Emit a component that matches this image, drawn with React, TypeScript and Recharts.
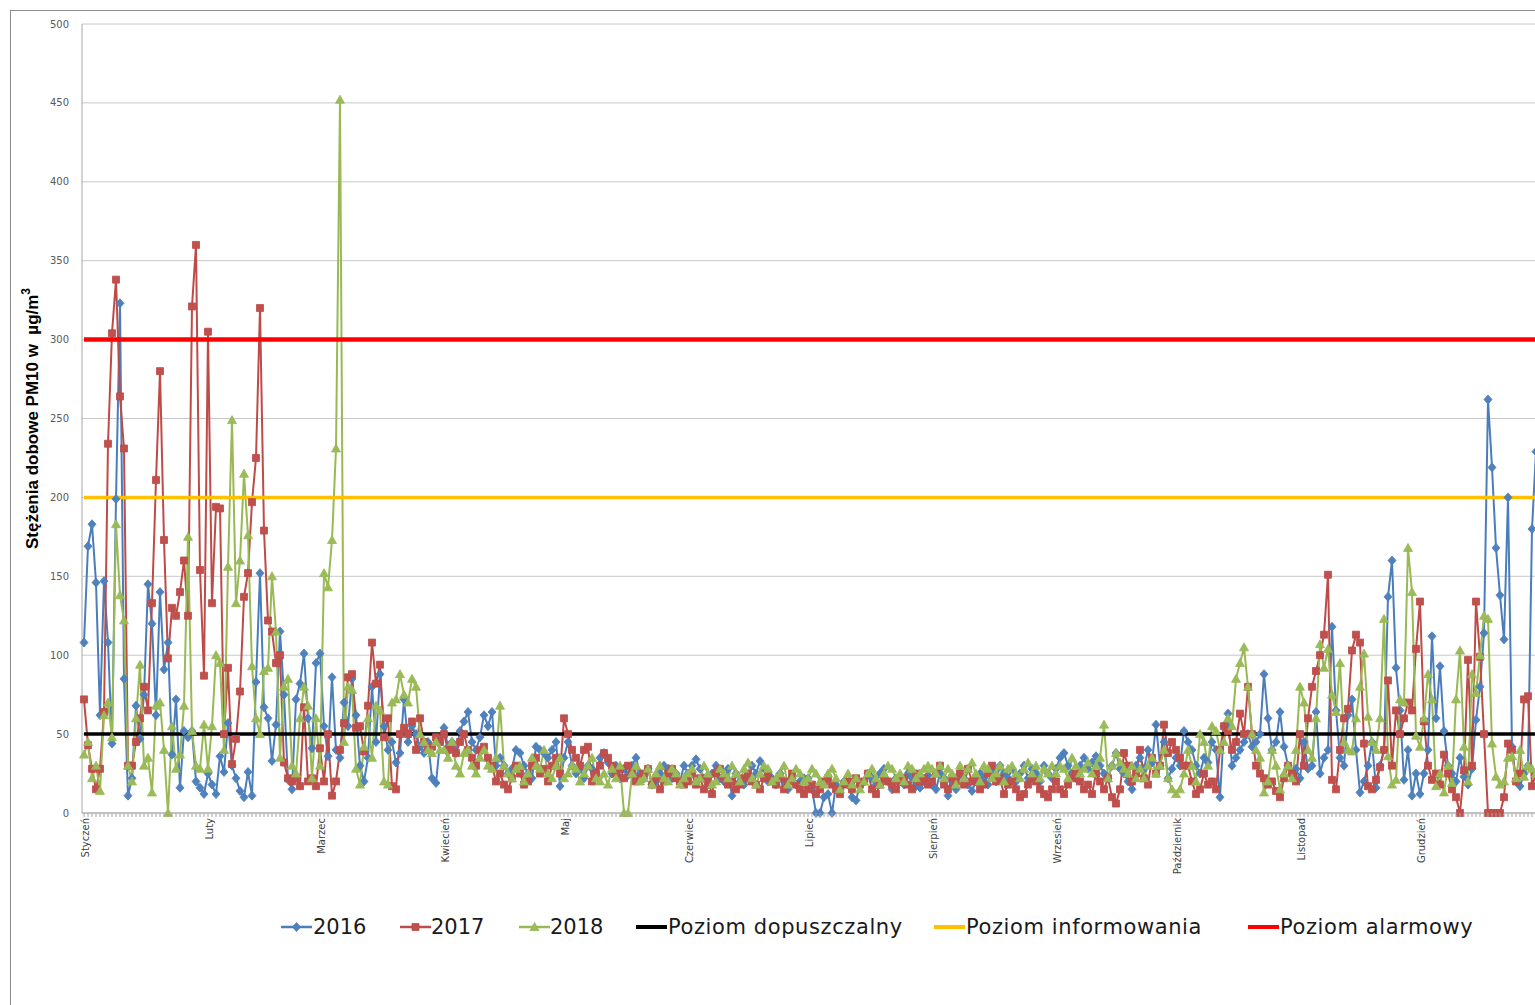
import React from 'react';
import { LineChart, Line, XAxis, YAxis, CartesianGrid, Legend } from 'recharts';

const MONTHS = ['Styczeń', 'Luty', 'Marzec', 'Kwiecień', 'Maj', 'Czerwiec', 'Lipiec', 'Sierpień', 'Wrzesień', 'Październik', 'Listopad', 'Grudzień'];
const MONTH_DAYS = [31, 28, 31, 30, 31, 30, 31, 31, 30, 31, 30, 31];
const Y_TICKS = [0, 50, 100, 150, 200, 250, 300, 350, 400, 450, 500];

const LIMIT_DOPUSZCZALNY = 50;
const LIMIT_INFORMOWANIA = 200;
const LIMIT_ALARMOWY = 300;

// Daily PM10 concentrations, one sub-array per month
const PM10_2016: number[][] = [
  [108, 169, 183, 146, 62, 147, 108, 44, 199, 323, 85, 11, 22, 68, 47, 75, 145, 120, 62, 140, 91, 108, 37, 72, 16, 52, 48, 52, 20, 16, 12],
  [25, 18, 12, 36, 26, 57, 30, 22, 14, 10, 26, 11, 83, 152, 67, 60, 33, 56, 115, 75, 21, 15, 72, 82, 101, 60, 41, 95],
  [101, 55, 36, 86, 40, 35, 70, 55, 85, 62, 30, 20, 35, 80, 45, 88, 55, 40, 45, 32, 38, 72, 45, 55, 50, 42, 38, 45, 22, 19, 45],
  [54, 42, 45, 38, 52, 58, 64, 45, 40, 48, 62, 55, 64, 30, 35, 30, 25, 28, 40, 38, 30, 25, 22, 42, 40, 38, 35, 40, 45, 17],
  [35, 45, 30, 25, 28, 22, 30, 28, 25, 35, 38, 32, 25, 30, 22, 28, 24, 30, 35, 25, 22, 28, 18, 20, 25, 30, 28, 22, 25, 20, 30],
  [25, 30, 34, 28, 22, 18, 25, 30, 22, 20, 28, 11, 25, 20, 18, 22, 30, 25, 33, 28, 20, 22, 18, 25, 20, 15, 22, 18, 20, 22],
  [22, 15, 0, 0, 10, 12, 0, 18, 15, 20, 18, 10, 8, 18, 20, 25, 22, 18, 25, 28, 20, 15, 22, 20, 18, 25, 22, 17, 16, 20, 24],
  [18, 15, 25, 22, 11, 20, 15, 25, 22, 18, 14, 20, 25, 22, 18, 28, 20, 30, 25, 22, 28, 20, 25, 30, 22, 28, 25, 20, 30, 25, 22],
  [28, 35, 38, 30, 25, 22, 30, 35, 28, 32, 36, 30, 25, 22, 30, 38, 28, 25, 20, 15, 30, 35, 28, 40, 32, 56, 30, 45, 22, 28],
  [35, 30, 52, 45, 40, 30, 25, 35, 32, 45, 40, 10, 55, 63, 30, 35, 40, 45, 50, 42, 45, 50, 88, 60, 40, 45, 64, 42, 30, 25, 28],
  [22, 45, 28, 30, 64, 25, 35, 40, 118, 65, 35, 30, 62, 72, 40, 13, 20, 30, 45, 16, 30, 40, 137, 160, 92, 65, 21, 40, 11, 25],
  [12, 25, 40, 112, 60, 93, 52, 30, 25, 20, 35, 23, 18, 28, 59, 80, 114, 262, 219, 168, 138, 110, 200, 42, 20, 17, 25, 30, 180, 229, 200],
];

const PM10_2017: number[][] = [
  [72, 43, 28, 15, 28, 64, 234, 304, 338, 264, 231, 30, 30, 45, 60, 80, 65, 133, 211, 280, 173, 98, 130, 125, 140, 160, 125, 321, 360, 154, 87],
  [305, 133, 194, 193, 50, 92, 31, 47, 77, 137, 152, 197, 225, 320, 179, 122, 115, 95, 100, 32, 22, 20, 22, 17, 67, 20, 22, 17],
  [41, 20, 50, 11, 20, 40, 57, 86, 88, 54, 55, 39, 68, 108, 82, 94, 48, 60, 17, 15, 50, 54, 50, 58, 40, 60, 45, 40, 42, 48, 45],
  [50, 40, 42, 38, 45, 50, 40, 35, 30, 40, 42, 35, 30, 20, 25, 18, 15, 22, 30, 25, 18, 20, 30, 35, 25, 28, 20, 30, 35, 25],
  [60, 50, 40, 35, 30, 40, 42, 20, 25, 30, 38, 35, 30, 25, 28, 22, 30, 25, 20, 22, 25, 28, 18, 22, 15, 20, 25, 28, 22, 20, 18],
  [20, 25, 18, 22, 15, 20, 12, 25, 28, 22, 18, 20, 15, 18, 22, 25, 20, 18, 15, 22, 25, 20, 18, 22, 15, 20, 25, 18, 15, 12],
  [15, 18, 12, 15, 20, 22, 18, 15, 12, 18, 20, 15, 22, 18, 20, 25, 15, 12, 18, 22, 20, 18, 15, 20, 22, 18, 15, 25, 20, 22, 18],
  [20, 25, 30, 18, 15, 22, 20, 25, 18, 28, 20, 22, 15, 18, 25, 30, 20, 22, 12, 18, 20, 15, 10, 12, 18, 22, 20, 15, 12, 10, 15],
  [20, 15, 12, 18, 22, 25, 20, 15, 18, 12, 25, 20, 15, 22, 10, 6, 15, 38, 30, 20, 25, 40, 22, 18, 35, 25, 30, 56, 38, 45],
  [40, 35, 30, 30, 20, 12, 15, 25, 18, 20, 15, 40, 55, 52, 40, 45, 63, 50, 80, 50, 30, 25, 22, 18, 20, 14, 10, 22, 30, 25, 20],
  [50, 30, 60, 80, 90, 100, 113, 151, 21, 15, 40, 60, 66, 103, 113, 108, 44, 17, 15, 21, 29, 40, 84, 30, 65, 50, 60, 70, 65, 104],
  [134, 58, 30, 21, 25, 18, 37, 25, 15, 10, 0, 27, 97, 30, 134, 99, 50, 0, 0, 0, 0, 10, 44, 40, 20, 25, 72, 74, 17, 25, 30],
];

const PM10_2018: number[][] = [
  [37, 45, 22, 30, 14, 62, 70, 48, 183, 138, 122, 30, 20, 60, 94, 30, 35, 13, 68, 70, 40, 0, 55, 28, 37, 68, 175, 52, 30, 28, 56],
  [28, 55, 100, 95, 40, 156, 249, 133, 160, 215, 176, 93, 60, 50, 90, 92, 150, 115, 35, 80, 85, 30, 25, 60, 80, 68, 22, 60],
  [30, 152, 143, 173, 231, 452, 45, 80, 78, 28, 18, 42, 60, 35, 68, 65, 20, 18, 70, 72, 88, 75, 70, 85, 80, 50, 45, 40, 38, 45, 40],
  [40, 35, 45, 30, 25, 38, 40, 30, 25, 35, 40, 30, 28, 35, 68, 30, 25, 22, 28, 30, 20, 25, 35, 30, 28, 40, 25, 22, 30, 35],
  [22, 25, 30, 28, 20, 25, 30, 35, 22, 20, 25, 18, 28, 22, 30, 0, 0, 25, 30, 20, 22, 28, 18, 25, 30, 22, 20, 28, 25, 18, 22],
  [25, 28, 20, 22, 30, 25, 18, 20, 28, 25, 22, 30, 25, 20, 28, 32, 22, 18, 25, 30, 28, 20, 22, 25, 30, 18, 22, 28, 25, 20],
  [22, 28, 25, 20, 18, 25, 28, 22, 15, 20, 25, 18, 22, 15, 20, 25, 28, 22, 18, 25, 30, 28, 22, 25, 20, 30, 28, 22, 25, 28, 30],
  [28, 25, 30, 22, 28, 25, 18, 30, 22, 28, 32, 25, 20, 30, 28, 22, 25, 30, 20, 28, 30, 25, 22, 28, 32, 25, 30, 22, 28, 25, 30],
  [25, 30, 28, 22, 35, 30, 25, 28, 32, 25, 30, 35, 56, 22, 30, 38, 32, 28, 25, 30, 22, 28, 22, 30, 35, 25, 30, 40, 22, 15],
  [12, 15, 25, 40, 30, 20, 50, 45, 30, 55, 52, 40, 45, 60, 55, 85, 95, 105, 80, 50, 40, 35, 13, 20, 40, 30, 15, 25, 30, 22, 40],
  [80, 70, 40, 35, 60, 107, 92, 104, 75, 64, 95, 45, 40, 39, 60, 80, 101, 61, 45, 40, 60, 123, 36, 18, 21, 72, 70, 168, 140, 49],
  [42, 60, 88, 72, 17, 25, 13, 30, 19, 72, 103, 42, 20, 88, 76, 100, 125, 123, 44, 23, 18, 20, 35, 36, 22, 40, 23, 30, 28, 25, 30],
];

const SERIES = [
  { key: 'y2016', name: '2016', stroke: '#4A7EBB', fill: '#4F81BD', marker: 'diamond' },
  { key: 'y2017', name: '2017', stroke: '#BE4B48', fill: '#C0504D', marker: 'square' },
  { key: 'y2018', name: '2018', stroke: '#98B954', fill: '#9BBB59', marker: 'triangle' },
];
const LIMITS = [
  { key: 'dop', name: 'Poziom dopuszczalny', stroke: '#000000', width: 3.5 },
  { key: 'inf', name: 'Poziom informowania', stroke: '#FFC000', width: 3.5 },
  { key: 'alarm', name: 'Poziom alarmowy', stroke: '#FF0000', width: 4.5 },
];

const MONTH_START: Record<number, string> = {};
{
  let acc = 0;
  MONTH_DAYS.forEach((n, i) => {
    MONTH_START[acc] = MONTHS[i];
    acc += n;
  });
}

const s16 = PM10_2016.flat();
const s17 = PM10_2017.flat();
const s18 = PM10_2018.flat();

const data = s16.map((v, i) => ({
  day: i,
  y2016: v,
  y2017: s17[i],
  y2018: s18[i],
  dop: LIMIT_DOPUSZCZALNY,
  inf: LIMIT_INFORMOWANIA,
  alarm: LIMIT_ALARMOWY,
}));

const FONT = '"DejaVu Sans", "Liberation Sans", sans-serif';

function markerPath(type: string, cx: number, cy: number) {
  if (type === 'diamond') return `M${cx},${cy - 4.5}L${cx + 4},${cy}L${cx},${cy + 4.5}L${cx - 4},${cy}Z`;
  if (type === 'square') return `M${cx - 3.5},${cy - 3.5}h7v7h-7Z`;
  return `M${cx},${cy - 4.5}L${cx + 4.5},${cy + 3.5}L${cx - 4.5},${cy + 3.5}Z`;
}

const makeDot = (type: string, fill: string, stroke: string) => (props: any) => {
  const { cx, cy, index } = props;
  if (cx == null || cy == null) return <g key={`e-${type}-${index}`} />;
  return <path key={`m-${type}-${index}`} d={markerPath(type, cx, cy)} fill={fill} stroke={stroke} strokeWidth={0.8} />;
};

const MonthTick = (props: any) => {
  const { x, y, payload } = props;
  const label = MONTH_START[payload.value];
  return (
    <g>
      <line x1={x} x2={x} y1={y} y2={y + 4} stroke="#a6a6a6" strokeWidth={1} />
      {label ? (
        <text
          x={x + 1}
          y={y + 5}
          transform={`rotate(-90, ${x + 1}, ${y + 5})`}
          textAnchor="end"
          dominantBaseline="central"
          fontSize={10}
          fontFamily={FONT}
          fill="#404040"
        >
          {label}
        </text>
      ) : null}
    </g>
  );
};

const YLabel = (props: any) => {
  const vb = props.viewBox || { x: 0, y: 24, width: 82, height: 789 };
  const x = 32;
  const y = vb.y + vb.height / 2;
  return (
    <text
      x={x}
      y={y}
      transform={`rotate(-90, ${x}, ${y})`}
      textAnchor="middle"
      dominantBaseline="central"
      fontSize={17}
      fontWeight="bold"
      fontFamily='"Liberation Sans", Arial, sans-serif'
      fill="#000"
      style={{ whiteSpace: 'pre' }}
    >
      {'Stężenia dobowe PM10 w  µg/m'}
      <tspan fontSize={12} dy={-6}>3</tspan>
    </text>
  );
};

const LEGEND_POS: Record<string, [number, number]> = {
  y2016: [281, 313],
  y2017: [400, 431],
  y2018: [519, 550],
  dop: [636, 668],
  inf: [934, 966],
  alarm: [1248, 1280],
};

const LegendContent = () => {
  const items = [
    ...SERIES.map((s) => ({ key: s.key, name: s.name, stroke: s.stroke, fill: s.fill, marker: s.marker, width: 2.5 })),
    ...LIMITS.map((l) => ({ key: l.key, name: l.name, stroke: l.stroke, fill: l.stroke, marker: '', width: 4 })),
  ];
  return (
    <div style={{ position: 'relative', width: 1560, height: 108 }}>
      {items.map((it) => {
        const [ix, tx] = LEGEND_POS[it.key];
        return (
          <React.Fragment key={it.key}>
            <svg style={{ position: 'absolute', left: ix, top: 18 }} width={31} height={24}>
              <line x1={0} x2={31} y1={12} y2={12} stroke={it.stroke} strokeWidth={it.width} />
              {it.marker ? <path d={markerPath(it.marker, 15.5, 12)} fill={it.fill} stroke={it.stroke} strokeWidth={0.8} /> : null}
            </svg>
            <div
              style={{
                position: 'absolute',
                left: tx,
                top: 18,
                height: 24,
                lineHeight: '24px',
                fontSize: 21,
                letterSpacing: it.marker ? '0px' : '0.6px',
                fontFamily: FONT,
                color: '#1a1a1a',
                whiteSpace: 'nowrap',
              }}
            >
              {it.name}
            </div>
          </React.Fragment>
        );
      })}
    </div>
  );
};

export default function App() {
  return (
    <div style={{ position: 'absolute', left: 0, top: 0, width: 1535, height: 1005, overflow: 'hidden', background: '#fff' }}>
      <div
        style={{
          position: 'absolute',
          left: 10,
          top: 10,
          width: 1600,
          height: 1100,
          border: '1px solid #8c8c8c',
          boxSizing: 'border-box',
        }}
      />
      <div style={{ position: 'absolute', left: 0, top: 0 }}>
        <LineChart width={1560} height={1005} data={data} margin={{ top: 24, right: 18, bottom: 0, left: 0 }}>
          <CartesianGrid vertical={false} stroke="#c8c8c8" strokeWidth={1} />
          <XAxis
            dataKey="day"
            type="category"
            interval={0}
            height={84}
            padding={{ left: 2, right: 2 }}
            tickLine={false}
            tickSize={0}
            tickMargin={0}
            axisLine={{ stroke: '#a6a6a6' }}
            tick={<MonthTick />}
          />
          <YAxis
            domain={[0, 500]}
            ticks={Y_TICKS}
            interval={0}
            width={82}
            tickLine={false}
            tickSize={0}
            tickMargin={13}
            axisLine={{ stroke: '#a6a6a6' }}
            tick={{ fontSize: 10, fill: '#595959', fontFamily: FONT }}
            label={<YLabel />}
          />
          <Legend verticalAlign="bottom" align="left" content={<LegendContent />} wrapperStyle={{ left: 0, bottom: 0, width: 1560, height: 108 }} />
          {SERIES.map((s) => (
            <Line
              key={s.key}
              type="linear"
              dataKey={s.key}
              name={s.name}
              stroke={s.stroke}
              strokeWidth={2}
              dot={makeDot(s.marker, s.fill, s.stroke)}
              activeDot={false}
              isAnimationActive={false}
            />
          ))}
          {LIMITS.map((l) => (
            <Line
              key={l.key}
              type="linear"
              dataKey={l.key}
              name={l.name}
              stroke={l.stroke}
              strokeWidth={l.width}
              dot={false}
              activeDot={false}
              isAnimationActive={false}
            />
          ))}
        </LineChart>
      </div>
    </div>
  );
}
